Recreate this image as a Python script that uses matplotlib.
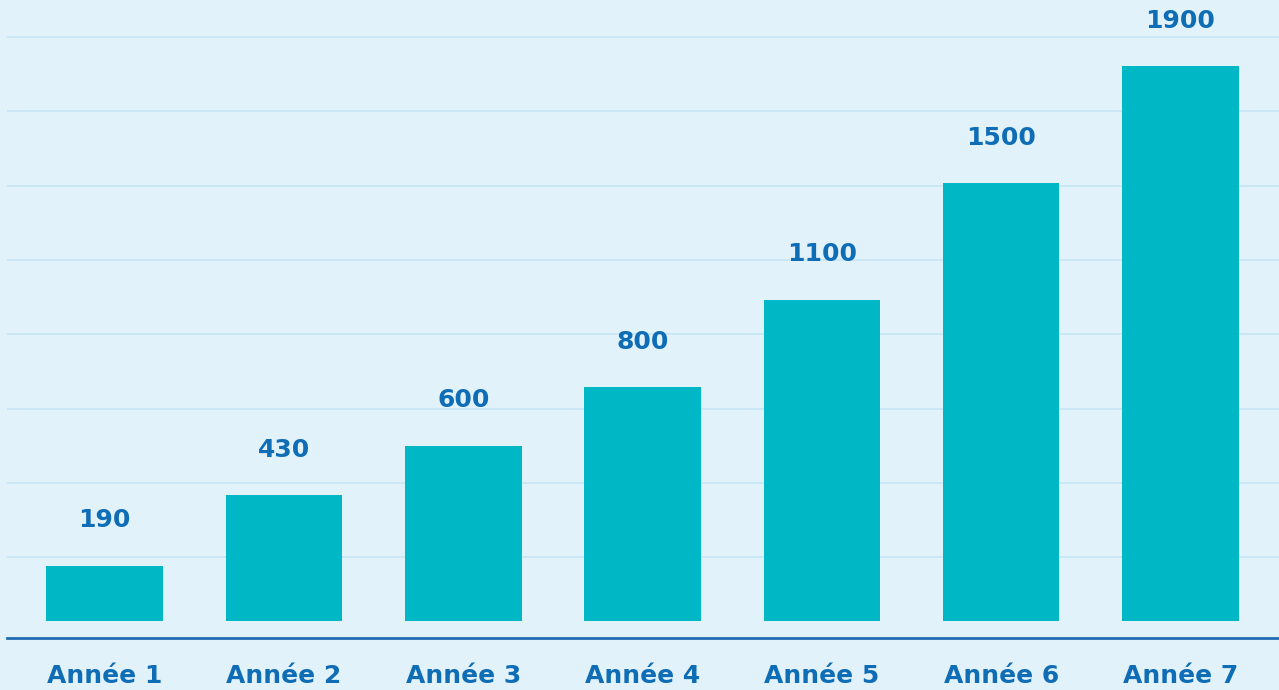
import matplotlib
matplotlib.use("Agg")
import matplotlib.pyplot as plt
import numpy as np

years = ["Année 1", "Année 2", "Année 3", "Année 4", "Année 5", "Année 6", "Année 7"]
values = [190, 430, 600, 800, 1100, 1500, 1900]

bg = "#E1F2FA"
bar_col = "#00B7C6"
txt_col = "#0F6DB6"
grid_col = "#C6E5F6"

fig = plt.figure(figsize=(12.79, 6.9), dpi=100, facecolor=bg)
ax = fig.add_axes([7 / 1279, 52 / 690, 1272 / 1279, 638 / 690])
ax.set_facecolor(bg)

x = np.arange(len(years))
ax.bar(x, values, width=0.65, color=bar_col, zorder=3)

for xi, v in zip(x, values):
    ax.annotate(str(v), (xi, v), xytext=(0, 24), textcoords="offset points",
                ha="center", va="bottom", fontsize=18, fontweight="bold",
                color=txt_col)

for g in np.linspace(219, 1999, 8):
    ax.axhline(g, color=grid_col, lw=1.2, zorder=1)

ax.set_xlim(-0.544, 6.549)
ax.set_ylim(-58, 2126)

ax.set_xticks(x)
ax.set_xticklabels(years, fontsize=18, fontweight="bold", color=txt_col)
ax.tick_params(axis="x", length=0, pad=19)
ax.set_yticks([])

for s in ["top", "right", "left"]:
    ax.spines[s].set_visible(False)
ax.spines["bottom"].set_color("#1F6DB0")
ax.spines["bottom"].set_linewidth(2)

fig.savefig("out.png", dpi=100, facecolor=bg)
